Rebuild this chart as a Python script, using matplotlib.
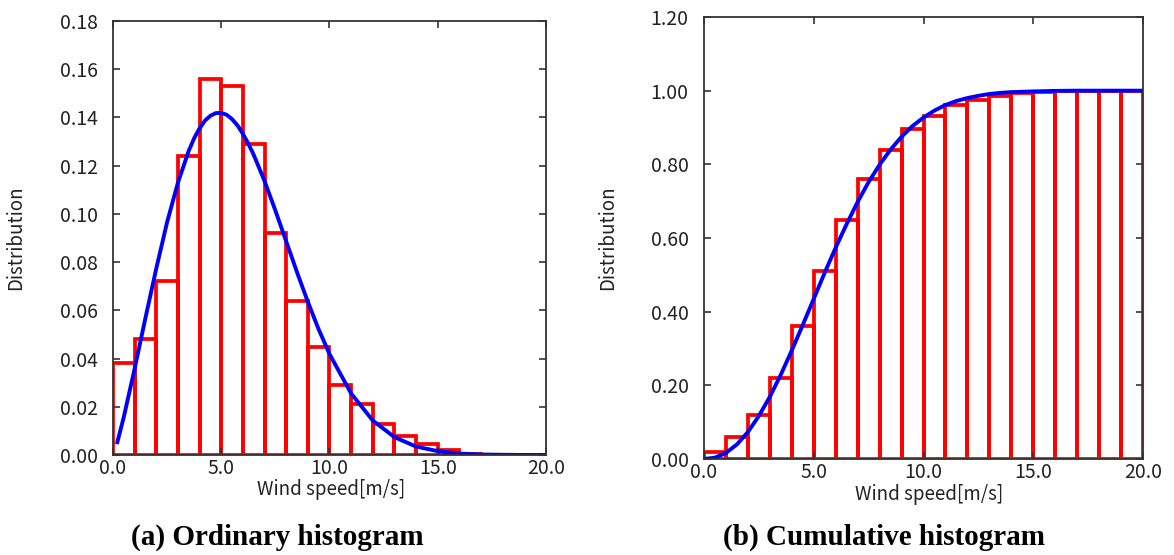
import numpy as np
import matplotlib
matplotlib.use('Agg')
import matplotlib.pyplot as plt
from matplotlib.ticker import FormatStrFormatter

plt.rcParams['font.family'] = ['Noto Sans CJK JP', 'DejaVu Sans']

# bin edges 0..20 m/s, 1 m/s wide
bin_left = list(range(0, 20))

# (a) ordinary histogram
freq = [0.038, 0.048, 0.072, 0.124, 0.156, 0.153, 0.129, 0.092, 0.064, 0.045,
        0.029, 0.021, 0.013, 0.008, 0.0045, 0.002, 0.0006, 0.0002, 0.0, 0.0]

# (b) cumulative histogram
cum = [0.02, 0.06, 0.12, 0.22, 0.36, 0.51, 0.65, 0.76, 0.84, 0.895,
       0.93, 0.96, 0.975, 0.985, 0.993, 0.997, 1.0, 1.0, 1.0, 1.0]

# blue fitted curves
pdf_x = [0.2, 0.5, 1.0, 1.5, 2.0, 2.5, 3.0, 3.5, 3.75, 4.0, 4.25, 4.5, 4.75,
         5.0, 5.25, 5.5, 5.75, 6.0, 6.25, 6.5, 7.0, 7.5, 8.0, 8.5, 9.0, 9.5,
         10.0, 11.0, 12.0, 13.0, 14.0, 15.0, 16.0, 17.0, 18.0, 19.0, 20.0]
pdf_y = [0.0053, 0.0158, 0.0358, 0.0569, 0.0774, 0.0966, 0.113, 0.1262,
         0.1314, 0.1355, 0.1387, 0.1407, 0.1418, 0.1419, 0.1411, 0.1393,
         0.1367, 0.1332, 0.1291, 0.1245, 0.1136, 0.1014, 0.0886, 0.0758,
         0.0635, 0.0521, 0.0419, 0.0255, 0.0143, 0.0074, 0.0035, 0.0016,
         0.0006, 0.0002, 0.0001, 0.0, 0.0]

cdf_x = [0.0, 0.5, 1.0, 1.5, 2.0, 2.5, 3.0, 3.5, 4.0, 4.5, 5.0, 5.5, 6.0, 6.5,
         7.0, 7.5, 8.0, 8.5, 9.0, 9.5, 10.0, 10.5, 11.0, 11.5, 12.0, 12.5,
         13.0, 13.5, 14.0, 15.0, 16.0, 17.0, 18.0, 19.0, 20.0]
cdf_y = [0.0, 0.0036, 0.0165, 0.0396, 0.0733, 0.117, 0.169, 0.229, 0.295,
         0.364, 0.435, 0.506, 0.574, 0.638, 0.698, 0.752, 0.799, 0.840, 0.875,
         0.904, 0.927, 0.946, 0.961, 0.972, 0.980, 0.986, 0.991, 0.994,
         0.996, 0.998, 0.9994, 1.0, 1.0, 1.0, 1.0]

fig = plt.figure(figsize=(11.74, 5.55), dpi=100)
ax1 = fig.add_axes([0.09625, 0.18018, 0.36882, 0.78198])
ax2 = fig.add_axes([0.59966, 0.17297, 0.37394, 0.79640])


def style(ax, ymax, ystep):
    ax.set_xlim(0, 20)
    ax.set_ylim(0, ymax)
    ax.set_xticks(np.arange(0, 20.1, 5))
    ax.set_yticks(np.arange(0, ymax + ystep / 2, ystep))
    ax.xaxis.set_major_formatter(FormatStrFormatter('%.1f'))
    ax.yaxis.set_major_formatter(FormatStrFormatter('%.2f'))
    ax.tick_params(direction='in', length=5, width=1.2, top=True, right=True,
                   labelsize=14, colors='#333333', labelcolor='#222222')
    ax.tick_params(axis='y', pad=11)
    ax.tick_params(axis='x', pad=2)
    for s in ax.spines.values():
        s.set_color('#333333')
        s.set_linewidth(1.3)
    ax.set_xlabel('Wind speed[m/s]', fontsize=13.5, color='#222222')
    ax.set_ylabel('Distribution', fontsize=13.5, color='#222222')


ax1.bar(bin_left, freq, width=1, align='edge', fill=False,
        edgecolor='red', linewidth=2.7)
ax1.plot(pdf_x, pdf_y, color='blue', linewidth=2.8, solid_joinstyle='round')
style(ax1, 0.18, 0.02)
ax1.xaxis.set_label_coords(0.503, -0.056)
ax1.yaxis.set_label_coords(-0.201, 0.5)

ax2.bar(bin_left, cum, width=1, align='edge', fill=False,
        edgecolor='red', linewidth=2.7)
ax2.plot(cdf_x, cdf_y, color='blue', linewidth=2.8, solid_joinstyle='round')
style(ax2, 1.2, 0.2)
ax2.xaxis.set_label_coords(0.513, -0.056)
ax2.yaxis.set_label_coords(-0.196, 0.5)

fig.text(0.236, 0.031, '(a) Ordinary histogram', ha='center', va='center',
         family='Liberation Serif', fontweight='bold', fontsize=21)
fig.text(0.753, 0.031, '(b) Cumulative histogram', ha='center', va='center',
         family='Liberation Serif', fontweight='bold', fontsize=21)

fig.savefig('out.png', dpi=100)
